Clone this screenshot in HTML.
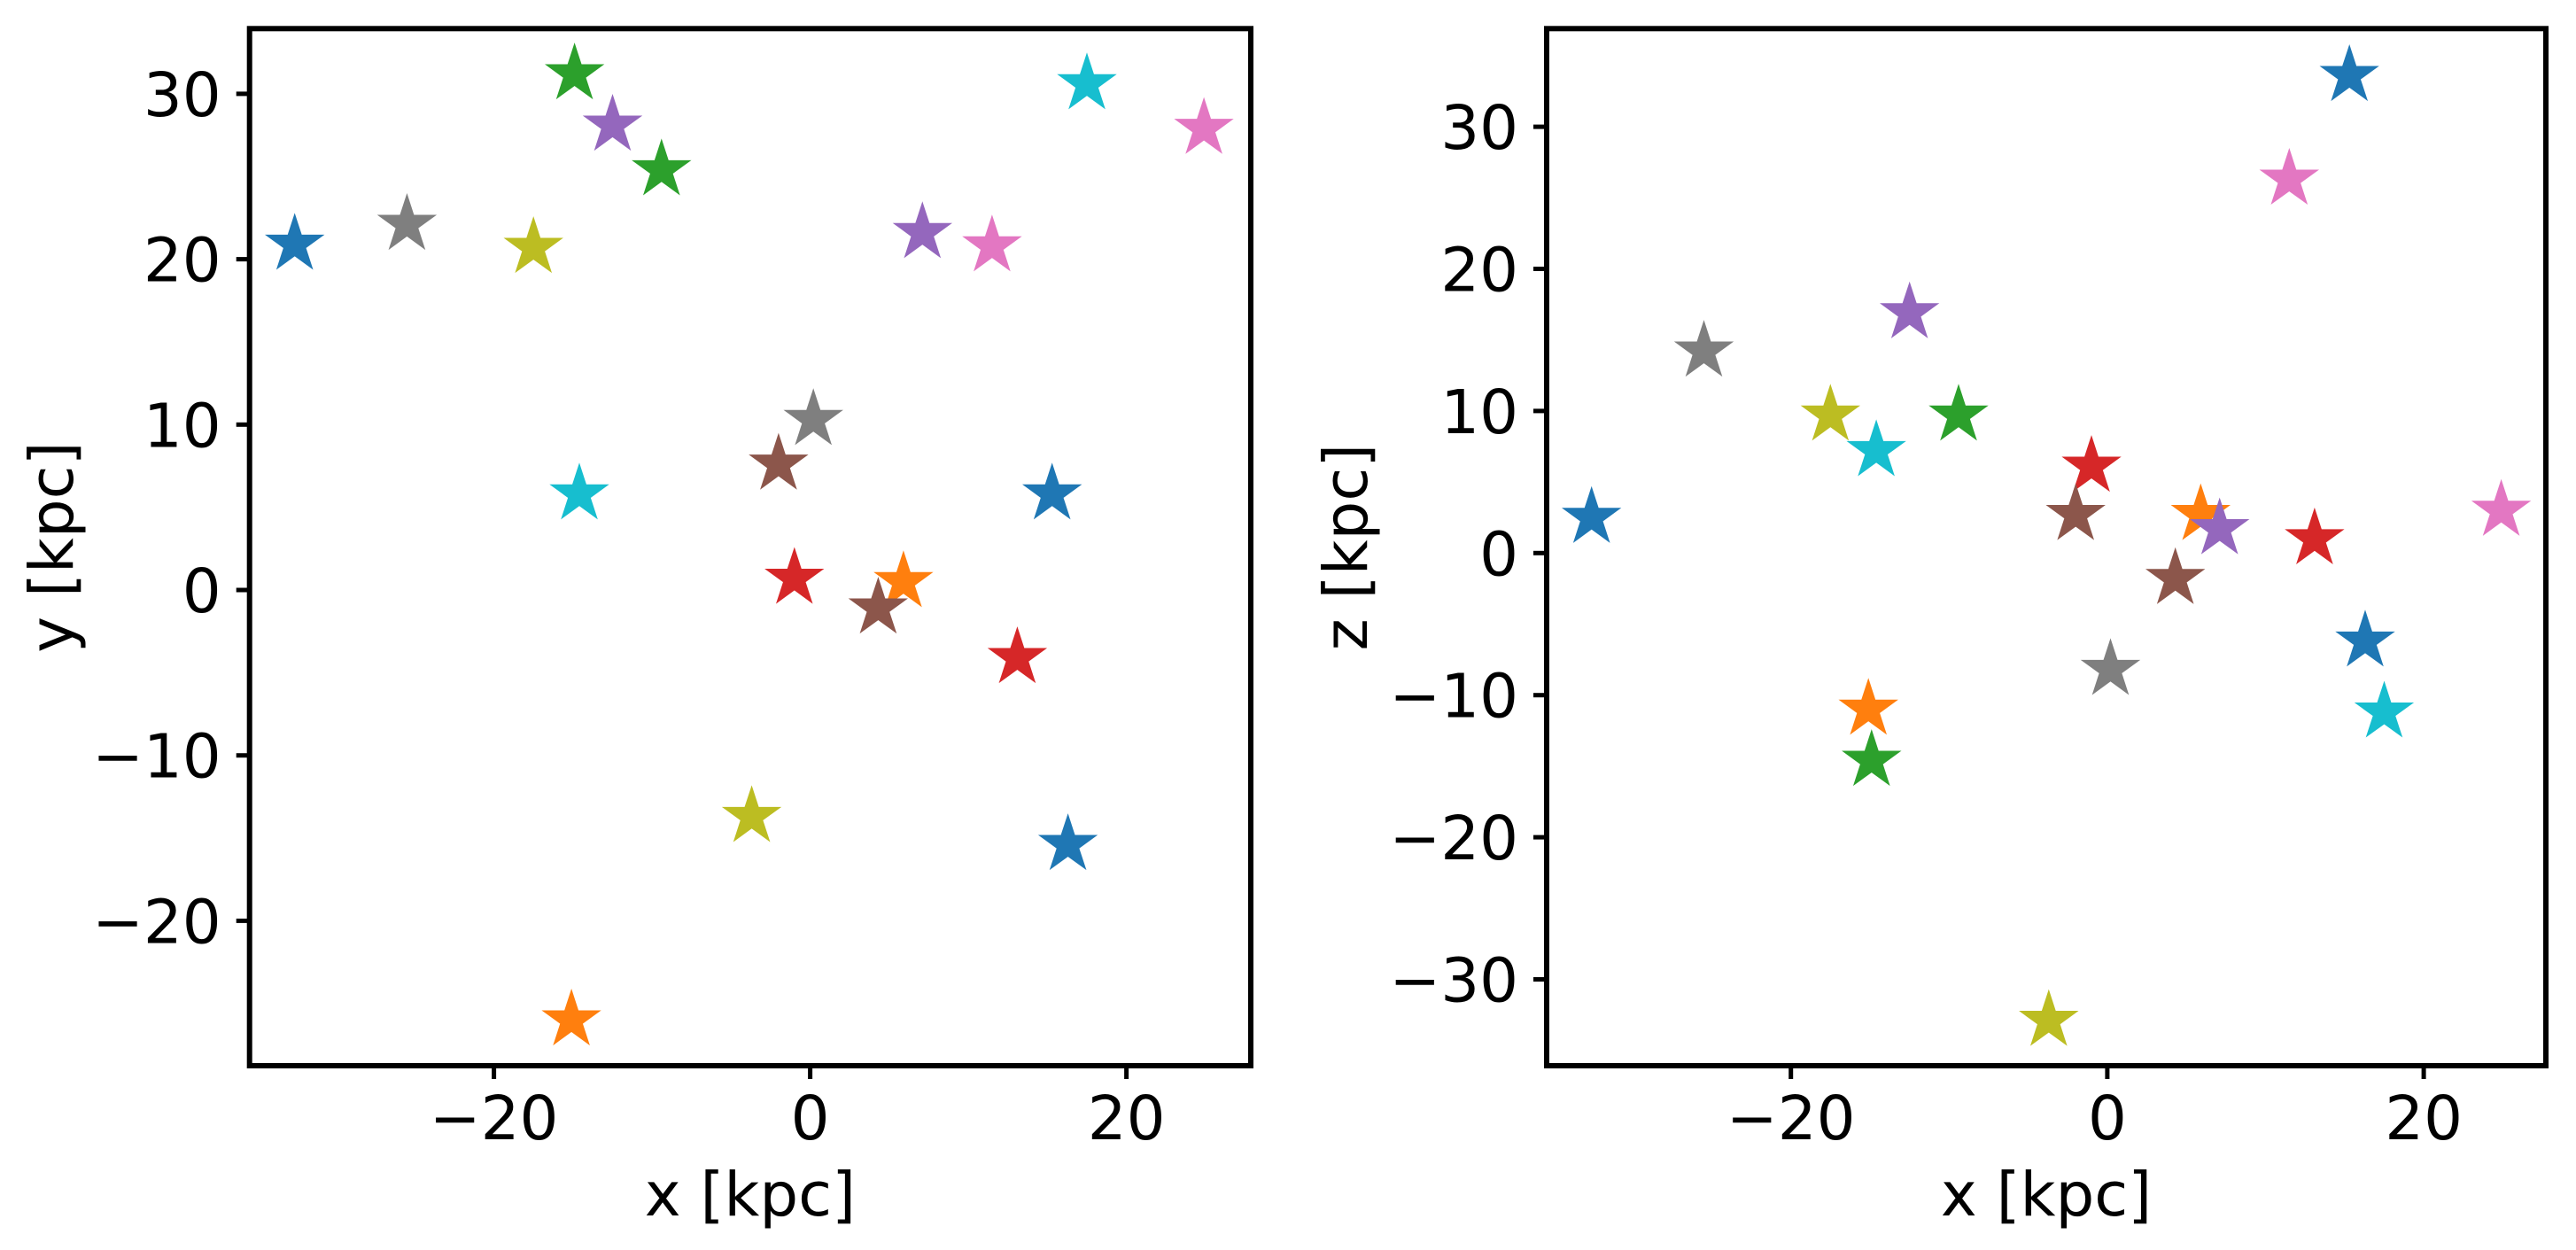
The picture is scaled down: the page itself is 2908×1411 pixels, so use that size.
<!DOCTYPE html>
<html><head><meta charset="utf-8"><style>
html,body{margin:0;padding:0;background:#fff;}
svg{display:block;font-family:"DejaVu Sans","Liberation Sans",sans-serif;}
</style></head><body>
<svg id="fig" width="2908" height="1411" viewBox="0 0 2908 1411" xmlns="http://www.w3.org/2000/svg">
<rect width="2908" height="1411" fill="#fff"/>
</svg>
<script>
const xs = [-32.6, 15.3, 16.3, 5.9, -15.1, -14.9, -9.4, -1.0, 13.1, -12.5, 7.1, -2.0, 4.3, 11.5, 24.9, -25.5, 0.2, -17.5, -3.7, 17.5, -14.6];
const ys = [20.9, 5.8, -15.4, 0.5, -26.0, 31.2, 25.4, 0.7, -4.1, 28.1, 21.6, 7.6, -1.1, 20.8, 27.9, 22.1, 10.3, 20.7, -13.7, 30.6, 5.8];
const zs = [2.5, 33.6, -6.2, 2.7, -11.0, -14.6, 9.7, 6.1, 1.0, 16.9, 1.7, 2.7, -1.8, 26.3, 3.0, 14.2, -8.2, 9.7, -32.9, -11.2, 7.2];
const colorIdx = [0,0,0,1,1,2,2,3,3,4,4,5,5,6,6,7,7,8,8,9,9];
const palette = ["#1f77b4","#ff7f0e","#2ca02c","#d62728","#9467bd","#8c564b","#e377c2","#7f7f7f","#bcbd22","#17becf"];
const xTicks = [-20, 0, 20];
const yTicks = [-20, -10, 0, 10, 20, 30];
const zTicks = [-30, -20, -10, 0, 10, 20, 30];

const NS = "http://www.w3.org/2000/svg";
const svg = document.getElementById('fig');
function mk(tag, attrs, parent){const e=document.createElementNS(NS,tag);for(const k in attrs)e.setAttribute(k,attrs[k]);(parent||svg).appendChild(e);return e;}
function fmt(v){return v<0?'\u2212'+Math.abs(v):String(v);}
function starPts(cx,cy,R){const r=R*0.381966;let p=[];for(let i=0;i<10;i++){const a=-Math.PI/2+i*Math.PI/5;const rr=i%2?r:R;p.push((cx+rr*Math.cos(a)).toFixed(1)+','+(cy+rr*Math.sin(a)).toFixed(1));}return p.join(' ');}

function panel(cfg){
  const g = mk('g',{});
  
  
  const sx = v => cfg.x0px + (v - 0) * cfg.xs;         // x0px = pixel of x=0
  const sy = v => cfg.y0px - v * cfg.ys;
  // points
  for(let i=0;i<xs.length;i++){
    const vy = cfg.vals[i];
    const s = mk('polygon',{points:starPts(sx(xs[i]), sy(vy), 33), fill:palette[colorIdx[i]], stroke:palette[colorIdx[i]], 'stroke-width':1.5}, g);
    
    
  }
  // frame
  const fr = mk('rect',{x:cfg.L,y:cfg.T,width:cfg.R-cfg.L,height:cfg.B-cfg.T,fill:'none',stroke:'#000','stroke-width':6}, g);
  
  
  // x ticks
  for(const t of xTicks){
    const px = sx(t);
    const l = mk('line',{x1:px,y1:cfg.B,x2:px,y2:cfg.B+15,stroke:'#000','stroke-width':5}, g);
    
    
    const tx = mk('text',{x:px,y:1286,'font-size':69,'text-anchor':'middle',fill:'#000'}, g);
    tx.textContent = fmt(t);
    
    
  }
  for(const t of cfg.ticks){
    const py = sy(t);
    const l = mk('line',{x1:cfg.L-15,y1:py,x2:cfg.L,y2:py,stroke:'#000','stroke-width':5}, g);
    
    
    const tx = mk('text',{x:cfg.L-32,y:py+25,'font-size':69,'text-anchor':'end',fill:'#000'}, g);
    tx.textContent = fmt(t);
    
    
  }
  const xl = mk('text',{x:(cfg.L+cfg.R)/2,y:1372,'font-size':69,'text-anchor':'middle',fill:'#000'}, g);
  xl.textContent = 'x [kpc]';
  
  
  const cy=(cfg.T+cfg.B)/2;
  const yl = mk('text',{x:cfg.ylx,y:cy,'font-size':69,'text-anchor':'middle',fill:'#000',transform:`rotate(-90 ${cfg.ylx} ${cy})`}, g);
  yl.textContent = cfg.ylabel;
  
  
}

panel({name:'xy-panel', L:281.7, R:1412, T:32.3, B:1203, x0px:914.6, xs:17.85, y0px:666, ys:18.67, vals:ys, ticks:yTicks, ylabel:'y [kpc]', ylx:82});
panel({name:'xz-panel', L:1746, R:2874, T:32.3, B:1203, x0px:2378.9, xs:17.86, y0px:624.3, ys:16.04, vals:zs, ticks:zTicks, ylabel:'z [kpc]', ylx:1543});
</script>
</body></html>
